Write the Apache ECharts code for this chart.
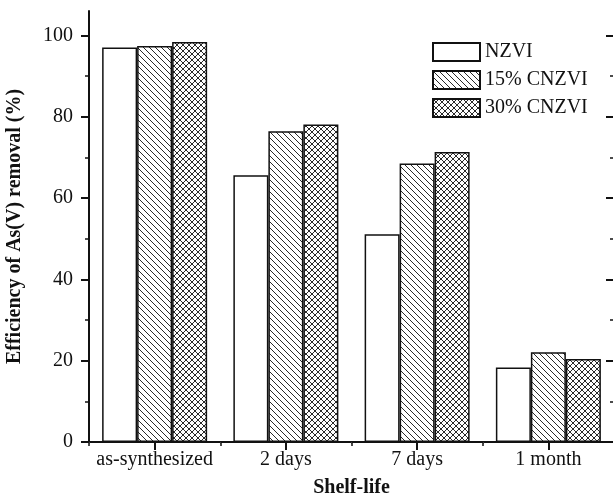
<!DOCTYPE html>
<html>
<head>
<meta charset="utf-8">
<script src="https://cdn.jsdelivr.net/npm/echarts@6/dist/echarts.min.js"></script>
<style>
    html, body { margin: 0; padding: 0; background: #ffffff; }
    #chart { width: 613px; height: 499px; }
</style>
</head>
<body>
<div id="chart"></div>
<script>
const categories = ["as-synthesized", "2 days", "7 days", "1 month"];
const nzvi = [97.0, 65.6, 51.1, 18.3];
const cnzvi15 = [97.4, 76.4, 68.5, 22.1];
const cnzvi30 = [98.4, 78.1, 71.3, 20.4];
const majorTicks = [0, 20, 40, 60, 80, 100];
const minorTicks = [10, 30, 50, 70, 90];

const font = "Liberation Serif";

// diagonal hatch "\\\"
function hatchPattern (size) {
    const c = document.createElement("canvas");
    c.width = size; c.height = size;
    const ctx = c.getContext("2d");
    ctx.fillStyle = "#fff";
    ctx.fillRect(0, 0, size, size);
    ctx.strokeStyle = "#2a2a2a";
    ctx.lineWidth = 1;
    for (let k = -1; k <= 1; k++) {
        ctx.beginPath();
        ctx.moveTo(k * size, 0);
        ctx.lineTo(k * size + size, size);
        ctx.stroke();
    }
    return c;
}

// cross hatch
function crossPattern (size) {
    const c = document.createElement("canvas");
    c.width = size; c.height = size;
    const ctx = c.getContext("2d");
    ctx.fillStyle = "#fff";
    ctx.fillRect(0, 0, size, size);
    ctx.strokeStyle = "#2a2a2a";
    ctx.lineWidth = 1;
    for (let k = -1; k <= 1; k++) {
        ctx.beginPath();
        ctx.moveTo(k * size, 0);
        ctx.lineTo(k * size + size, size);
        ctx.stroke();
        ctx.beginPath();
        ctx.moveTo(k * size + size, 0);
        ctx.lineTo(k * size, size);
        ctx.stroke();
    }
    return c;
}

const chart = echarts.init(document.getElementById("chart"), null, { renderer: "canvas" });

const axisLine = { show: true, lineStyle: { color: "#111", width: 2 } };
const noLabel = { show: false };

const yBase = { type: "value", min: 0, max: 106, splitLine: { show: false } };

const option = {
    animation: false,
    backgroundColor: "#fff",
    textStyle: { fontFamily: font },
    grid: { left: 89, top: 11, width: 525, height: 431, outerBoundsMode: "none", containLabel: false },
    legend: {
        orient: "vertical",
        left: 427,
        top: 37,
        itemWidth: 47,
        itemHeight: 18,
        itemGap: 8,
        icon: "rect",
        textStyle: { fontFamily: font, fontSize: 20, color: "#111" },
        data: ["NZVI", "15% CNZVI", "30% CNZVI"]
    },
    xAxis: [
        {
            type: "category",
            data: categories,
            position: "bottom",
            name: "Shelf-life",
            nameLocation: "middle",
            nameGap: 36,
            nameTextStyle: { fontFamily: font, fontSize: 20, fontWeight: "bold", color: "#111" },
            axisLine,
            axisTick: { show: true, length: 2, lineStyle: { color: "#aaa" } },
            axisLabel: { fontFamily: font, fontSize: 20, color: "#111", margin: 8, interval: 0 }
        },
        {
            type: "category",
            data: categories,
            position: "top",
            axisLine,
            axisTick: { show: true, inside: true, alignWithLabel: true, length: 8, lineStyle: { color: "#111", width: 2 } },
            axisLabel: noLabel
        },
        {
            type: "category",
            data: categories,
            position: "top",
            axisLine: { show: false },
            axisTick: { show: true, inside: true, length: 4, lineStyle: { color: "#111", width: 1.5 } },
            axisLabel: noLabel
        }
    ],
    yAxis: [
        Object.assign({}, yBase, {
            position: "left",
            name: "Efficiency of As(V) removal (%)",
            nameLocation: "middle",
            nameGap: 64,
            nameTextStyle: { fontFamily: font, fontSize: 20, fontWeight: "bold", color: "#111" },
            axisLine,
            axisTick: { show: true, length: 8, customValues: majorTicks, lineStyle: { color: "#111", width: 2 } },
            axisLabel: { fontFamily: font, fontSize: 20, color: "#111", margin: 16, customValues: majorTicks }
        }),
        Object.assign({}, yBase, {
            position: "left",
            axisLine: { show: false },
            axisTick: { show: true, length: 4, customValues: minorTicks, lineStyle: { color: "#111", width: 1.5 } },
            axisLabel: { show: false, customValues: minorTicks }
        }),
        Object.assign({}, yBase, {
            position: "right",
            axisLine,
            axisTick: { show: true, inside: true, length: 8, customValues: majorTicks, lineStyle: { color: "#111", width: 2 } },
            axisLabel: { show: false, customValues: majorTicks }
        }),
        Object.assign({}, yBase, {
            position: "right",
            axisLine: { show: false },
            axisTick: { show: true, inside: true, length: 4, customValues: minorTicks, lineStyle: { color: "#111", width: 1.5 } },
            axisLabel: { show: false, customValues: minorTicks }
        })
    ],
    series: [
        {
            name: "NZVI",
            type: "bar",
            data: nzvi,
            barGap: "0%",
            barCategoryGap: "20%",
            itemStyle: { color: "#fff", borderColor: "#111", borderWidth: 1.5 }
        },
        {
            name: "15% CNZVI",
            type: "bar",
            data: cnzvi15,
            barGap: "0%",
            barCategoryGap: "20%",
            itemStyle: { color: { image: hatchPattern(6), repeat: "repeat" }, borderColor: "#111", borderWidth: 1.5 }
        },
        {
            name: "30% CNZVI",
            type: "bar",
            data: cnzvi30,
            barGap: "0%",
            barCategoryGap: "20%",
            itemStyle: { color: { image: crossPattern(6), repeat: "repeat" }, borderColor: "#111", borderWidth: 1.5 }
        }
    ]
};

chart.setOption(option);
</script>
</body>
</html>
